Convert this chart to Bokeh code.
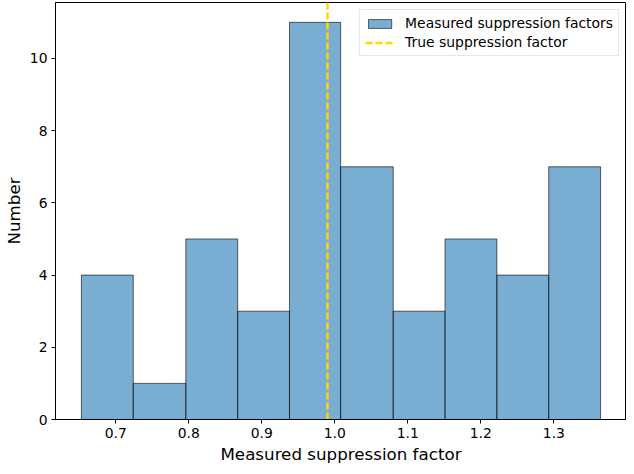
from bokeh.plotting import figure
from bokeh.models import Range1d, Legend, LegendItem, FixedTicker, PrintfTickFormatter
from bokeh.embed import file_html
from bokeh.resources import INLINE

# Histogram data
bin_edges = [0.653, 0.724, 0.796, 0.867, 0.938, 1.008, 1.080, 1.151, 1.222, 1.293, 1.364]
counts = [4, 1, 5, 3, 11, 7, 3, 5, 4, 7]
true_value = [0.99]
x_ticks = [0.7, 0.8, 0.9, 1.0, 1.1, 1.2, 1.3]
y_ticks = [0, 2, 4, 6, 8, 10]

FONT = "DejaVu Sans"

p = figure(width=626, height=466, output_backend="svg", toolbar_location=None,
           x_range=Range1d(0.6175, 1.3995), y_range=Range1d(0, 11.55),
           min_border_top=2, min_border_right=0, min_border_left=0, min_border_bottom=0)

p.background_fill_color = "white"
p.border_fill_color = "white"
p.outline_line_color = "black"
p.outline_line_width = 1
p.grid.visible = False

bars = p.quad(left=bin_edges[:-1], right=bin_edges[1:], bottom=0, top=counts,
              fill_color="#1f77b4", fill_alpha=0.6,
              line_color="black", line_alpha=0.6, line_width=1)

vline = p.vspan(x=true_value, line_color="#FFD700", line_dash="7 3", line_width=2.5)

legend = Legend(items=[LegendItem(label="Measured suppression factors", renderers=[bars]),
                       LegendItem(label="True suppression factor", renderers=[vline])],
                location="top_right")
legend.label_text_font = FONT
legend.label_text_font_size = "13.9px"
legend.label_text_color = "black"
legend.glyph_width = 29
legend.glyph_height = 11
legend.label_height = 16
legend.spacing = 3
legend.padding = 5
legend.margin = 7
legend.label_standoff = 11
legend.border_line_color = "#cccccc"
legend.border_line_width = 1
legend.background_fill_alpha = 0.8
p.add_layout(legend)

for ax in (p.xaxis, p.yaxis):
    ax.axis_line_color = "black"
    ax.major_tick_line_color = "black"
    ax.major_tick_out = 4
    ax.major_tick_in = 0
    ax.minor_tick_line_color = None
    ax.major_label_text_font = FONT
    ax.major_label_text_font_size = "13.9px"
    ax.major_label_text_color = "black"
    ax.axis_label_text_font = FONT
    ax.axis_label_text_font_size = "16.7px"
    ax.axis_label_text_font_style = "normal"
    ax.axis_label_text_color = "black"
    ax.major_label_standoff = 4
    ax.axis_label_standoff = 3

p.xaxis.ticker = FixedTicker(ticks=x_ticks)
p.yaxis.ticker = FixedTicker(ticks=y_ticks)
p.xaxis.formatter = PrintfTickFormatter(format="%.1f")
p.xaxis.axis_label = "Measured suppression factor"
p.yaxis.axis_label = "Number"

open("out.html", "w").write(file_html(p, INLINE))
